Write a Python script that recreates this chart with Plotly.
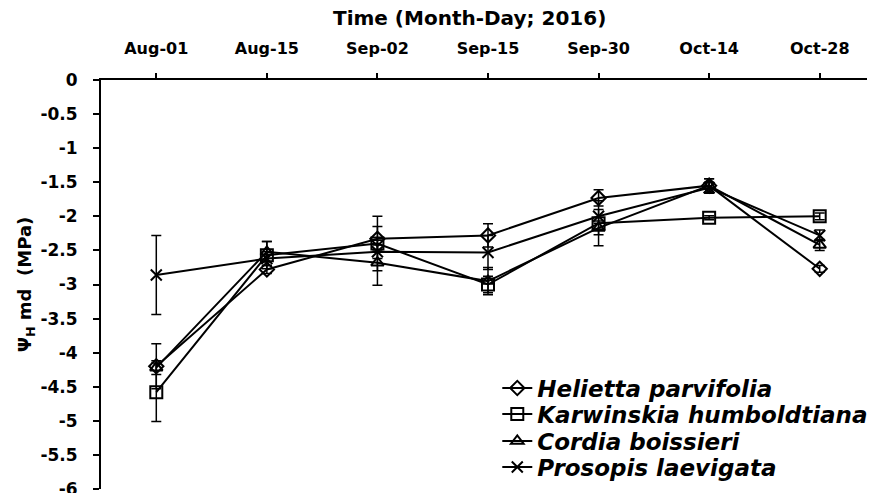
import plotly.graph_objects as go

dates = ["Aug-01", "Aug-15", "Sep-02", "Sep-15", "Sep-30", "Oct-14", "Oct-28"]
positions = [0, 1, 2, 3, 4, 5, 6]

species = ["Helietta parvifolia", "Karwinskia humboldtiana", "Cordia boissieri", "Prosopis laevigata"]

helietta = [-4.20, -2.78, -2.33, -2.28, -1.73, -1.55, -2.77]
helietta_err = [0.33, 0.06, 0.18, 0.17, 0.12, 0.10, 0.05]

karwinskia = [-4.58, -2.57, -2.40, -3.00, -2.10, -2.02, -2.00]
karwinskia_err = [0.43, 0.20, 0.40, 0.12, 0.33, 0.03, 0.05]

cordia = [-4.22, -2.52, -2.68, -2.95, -2.17, -1.55, -2.42]
cordia_err = [0.10, 0.15, 0.33, 0.20, 0.10, 0.10, 0.08]

prosopis = [-2.86, -2.62, -2.52, -2.53, -2.00, -1.58, -2.28]
prosopis_err = [0.58, 0.10, 0.10, 0.25, 0.10, 0.08, 0.08]

y_ticks = [0, -0.5, -1, -1.5, -2, -2.5, -3, -3.5, -4, -4.5, -5, -5.5, -6]
y_ticktext = ["0", "-0.5", "-1", "-1.5", "-2", "-2.5", "-3", "-3.5", "-4", "-4.5", "-5", "-5.5", "-6"]

x_title = "Time (Month-Day; 2016)"
y_title = "\u03a8<sub>H</sub> md  (MPa)"

series = [
    (species[0], helietta, helietta_err, "diamond-open", 11, "legend"),
    (species[1], karwinskia, karwinskia_err, "square-open", 12, "legend2"),
    (species[2], cordia, cordia_err, "triangle-up-open", 11, "legend3"),
    (species[3], prosopis, prosopis_err, "x-thin-open", 11, "legend4"),
]
legend_y = [0.2165, 0.1629, 0.1072, 0.0536]

FONT = "DejaVu Sans"

fig = go.Figure()
for name, vals, errs, sym, sz, lg in series:
    fig.add_trace(go.Scatter(
        x=positions, y=vals, name=name, mode="lines+markers", legend=lg,
        line=dict(color="black", width=2),
        marker=dict(symbol=sym, size=sz, color="black", line=dict(color="black", width=2)),
        error_y=dict(type="data", array=errs, symmetric=True, color="black", thickness=1.5, width=5),
        cliponaxis=False,
    ))

legend_common = dict(
    x=0.512, xanchor="left", yanchor="middle", yref="container",
    bgcolor="rgba(0,0,0,0)", borderwidth=0,
    font=dict(family=FONT, size=23, color="black", style="italic", weight="bold"),
    itemwidth=30,
)

layout_legends = {}
for i, yv in enumerate(legend_y):
    key = "legend" if i == 0 else "legend%d" % (i + 1)
    layout_legends[key] = dict(legend_common, y=yv)

fig.update_layout(
    width=867, height=485,
    margin=dict(l=93, r=0, t=72, b=4, autoexpand=False),
    plot_bgcolor="white", paper_bgcolor="white",
    font=dict(family=FONT, color="black", size=16),
    showlegend=True,
    xaxis=dict(
        range=[-0.5, 6.5], side="top", tickvals=positions, ticktext=dates,
        showline=True, linecolor="black", linewidth=2,
        ticks="outside", ticklen=5, tickwidth=1.5, tickcolor="black",
        showgrid=False, zeroline=False, ticklabelstandoff=13,
        tickfont=dict(family=FONT, size=16, weight="bold"),
    ),
    yaxis=dict(
        range=[-6, 0], tickvals=y_ticks, ticktext=y_ticktext,
        showline=True, linecolor="black", linewidth=2,
        ticks="outside", ticklen=6, tickwidth=1.5, tickcolor="black",
        showgrid=False, zeroline=False, ticklabelstandoff=12,
        ticklabeloverflow="allow",
        tickfont=dict(family=FONT, size=17, weight="bold"),
        title=dict(text=y_title, font=dict(family=FONT, size=18, weight="bold"), standoff=4),
    ),
    xaxis2=dict(
        range=[-0.5, 6.5], overlaying="x", side="top", anchor="y", tickvals=positions,
        showticklabels=False, ticks="inside", ticklen=5, tickwidth=1.5, tickcolor="black",
        showline=False, showgrid=False, zeroline=False,
    ),
    yaxis2=dict(
        range=[-6, 0], overlaying="y", side="left", anchor="x", tickvals=y_ticks,
        showticklabels=False, ticks="inside", ticklen=6, tickwidth=1.5, tickcolor="black",
        showline=False, showgrid=False, zeroline=False,
    ),
    **layout_legends,
)

fig.add_annotation(
    text=x_title, xref="paper", yref="paper", x=0.4755, y=1.1516,
    xanchor="center", yanchor="middle", showarrow=False,
    font=dict(family=FONT, size=20, weight="bold", color="black"),
)

fig.write_html("out.html")
